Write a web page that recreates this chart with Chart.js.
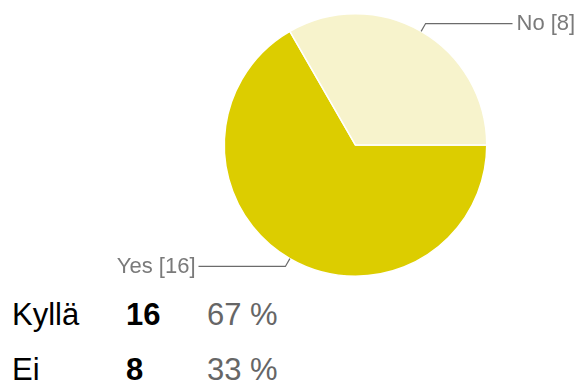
<!DOCTYPE html>
<html>
<head>
<meta charset="utf-8">
<script src="https://cdn.jsdelivr.net/npm/chart.js@4/dist/chart.umd.min.js"></script>
<style>
  html, body { margin: 0; padding: 0; background: #ffffff; }
  body { width: 579px; height: 385px; position: relative; overflow: hidden; font-family: "Liberation Sans", Arial, sans-serif; }
  #wrap { position: absolute; left: 0; top: 0; width: 579px; height: 290px; }
  .row { position: absolute; left: 0; width: 579px; height: 35px; line-height: 35px; font-size: 31px; white-space: nowrap; }
  .row span { position: absolute; top: 0; }
  .cat { left: 12px; color: #000; }
  .cnt { left: 126px; color: #000; font-weight: bold; }
  .pct { left: 207px; color: #666666; }
</style>
</head>
<body>
<div id="wrap"><canvas id="c"></canvas></div>
<div id="table"></div>
<script>
// ---- data ----
const chartLabels = ['Yes', 'No'];
const tableCategories = ['Kyllä', 'Ei'];
const counts = [16, 8];
const sliceColors = ['#dccd00', '#f7f3cc'];

// ---- leader-line labels plugin ----
const leaderLabels = {
  id: 'leaderLabels',
  afterDatasetsDraw(chart) {
    const ctx = chart.ctx;
    const meta = chart.getDatasetMeta(0);
    ctx.save();
    ctx.font = '22px "Liberation Sans", Arial, sans-serif';
    ctx.textBaseline = 'middle';
    meta.data.forEach((arc, i) => {
      const p = arc.getProps(['x', 'y', 'startAngle', 'endAngle', 'outerRadius'], true);
      const mid = (p.startAngle + p.endAngle) / 2;
      const cos = Math.cos(mid), sin = Math.sin(mid);
      const sx = p.x + cos * p.outerRadius;
      const sy = p.y + sin * p.outerRadius;
      const ex = p.x + cos * (p.outerRadius + 9);
      const ey = p.y + sin * (p.outerRadius + 9);
      const right = cos >= 0;
      const lx = right ? p.x + 157 : p.x - 157;
      ctx.strokeStyle = '#6b6b6b';
      ctx.lineWidth = 1.2;
      ctx.beginPath();
      ctx.moveTo(sx, sy);
      ctx.lineTo(ex, ey);
      ctx.lineTo(lx, ey);
      ctx.stroke();
      ctx.fillStyle = '#7a7a7a';
      ctx.textAlign = right ? 'left' : 'right';
      const txt = chart.data.labels[i] + ' [' + chart.data.datasets[0].data[i] + ']';
      ctx.fillText(txt, right ? lx + 4 : lx - 3, ey);
    });
    ctx.restore();
  }
};

new Chart(document.getElementById('c'), {
  type: 'pie',
  data: {
    labels: chartLabels,
    datasets: [{
      data: counts,
      backgroundColor: sliceColors,
      borderColor: '#ffffff',
      borderWidth: 1.5
    }]
  },
  options: {
    responsive: true,
    maintainAspectRatio: false,
    animation: false,
    rotation: 90,
    layout: { padding: { left: 192, right: 60, top: 13, bottom: 13 } },
    plugins: {
      legend: { display: false },
      tooltip: { enabled: false }
    }
  },
  plugins: [leaderLabels]
});

// ---- summary table ----
const total = counts.reduce((a, b) => a + b, 0);
const table = document.getElementById('table');
const rowTops = [297, 352];
tableCategories.forEach((cat, i) => {
  const row = document.createElement('div');
  row.className = 'row';
  row.style.top = rowTops[i] + 'px';
  const pct = Math.round(counts[i] / total * 100);
  row.innerHTML = '<span class="cat">' + cat + '</span>' +
                  '<span class="cnt">' + counts[i] + '</span>' +
                  '<span class="pct">' + pct + ' %</span>';
  table.appendChild(row);
});
</script>
</body>
</html>
